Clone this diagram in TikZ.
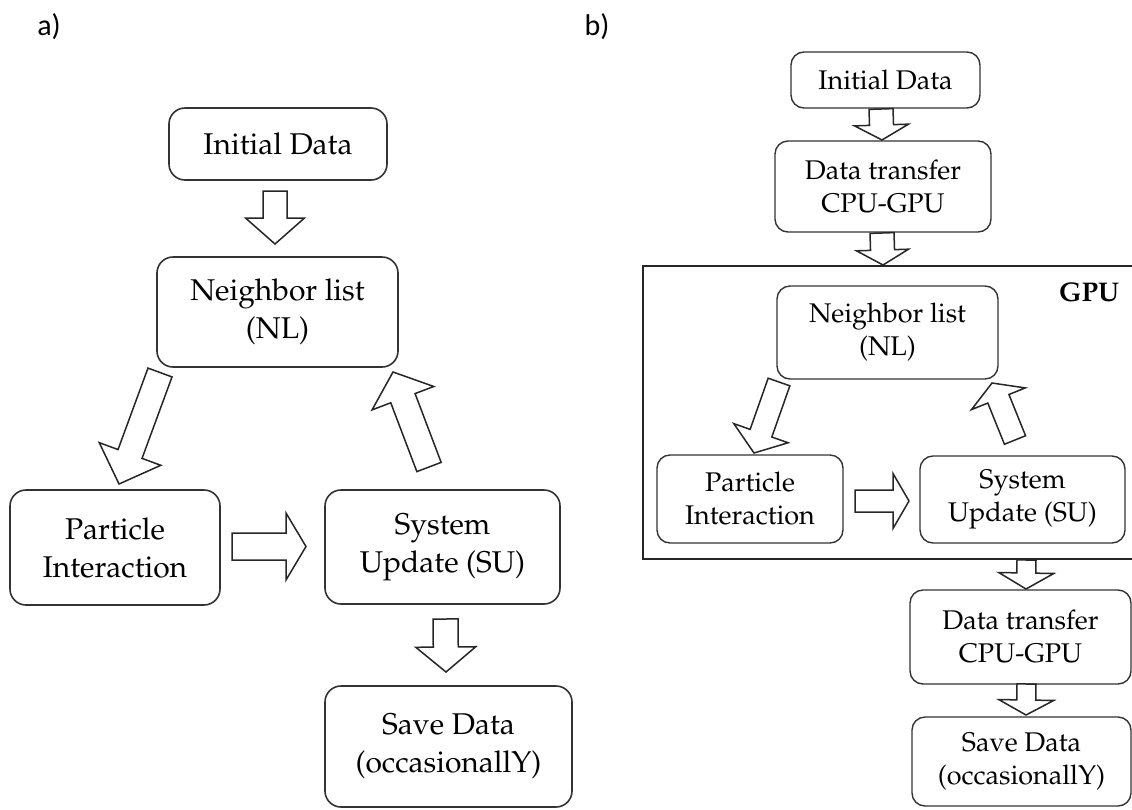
\documentclass[tikz,border=0pt]{standalone}
\usepackage[T1]{fontenc}
\usepackage{fontspec}
\newfontfamily\labfont{Carlito}
\usetikzlibrary{calc}
\newcommand\pala{\fontencoding{T1}\fontfamily{ppl}\selectfont}
\newcommand\palab{\fontencoding{T1}\fontfamily{ppl}\fontseries{b}\selectfont}
\newcommand\blockarrow[5]{%
  \path ($(#2)!#5pt!(#1)$) coordinate (bah);
  \draw[blk] ($(#1)!#3pt!90:(#2)$) -- ($(bah)!#3pt!90:(#2)$) -- ($(bah)!#4pt!90:(#2)$) -- (#2)
    -- ($(bah)!#4pt!-90:(#2)$) -- ($(bah)!#3pt!-90:(#2)$) -- ($(#1)!#3pt!-90:(#2)$) -- cycle;}
\begin{document}
\begin{tikzpicture}[x=1pt,y=-1pt,
  boxa/.style={draw=black!80, line width=1.6pt, rounded corners=16pt, align=center, inner sep=0pt,
     font=\pala\fontsize{30}{38}\selectfont},
  boxb/.style={draw=black!80, line width=1.4pt, rounded corners=13pt, align=center, inner sep=0pt,
     font=\pala\fontsize{27}{33}\selectfont},
  blk/.style={draw=black!85, line width=1.5pt, line join=miter, fill=white},
  lab/.style={font=\labfont\fontsize{30}{36}\selectfont, inner sep=0pt}]
\path[use as bounding box] (0,0) rectangle (1132,809);
\clip (0,0) rectangle (1132,809);
% labels
\node[lab] (la) at (49,27) {a)};
\node[lab] (lb) at (597,27) {b)};
% panel a
\node[boxa, minimum width=218pt, minimum height=72pt] (ida) at (278,144) {Initial Data};
\node[boxa, minimum width=241pt, minimum height=110pt] (nla) at (277.5,312) {Neighbor list\\(NL)};
\node[boxa, minimum width=210pt, minimum height=115pt] (pia) at (115,547.5) {Particle\\Interaction};
\node[boxa, minimum width=235pt, minimum height=114pt] (sua) at (442.5,547) {System\\Update (SU)};
\node[boxa, minimum width=247pt, minimum height=121pt] (sva) at (448.5,746.5) {Save Data\\(occasionallY)};
% panel b
\node[draw=black!85, line width=1.4pt, minimum width=502pt, minimum height=293pt, inner sep=0pt] (gpu) at (894,412.5) {};
\node[font=\palab\fontsize{27}{33}\selectfont, inner sep=0pt] (gpul) at (1089,292) {GPU};
\node[boxb, minimum width=189pt, minimum height=56pt] (idb) at (885.5,80) {Initial Data};
\node[boxb, minimum width=216pt, minimum height=91pt] (dtb) at (883,186.5) {Data transfer\\CPU-GPU};
\node[boxb, minimum width=221pt, minimum height=93pt] (nlb) at (887.5,332.5) {Neighbor list\\(NL)};
\node[boxb, minimum width=186pt, minimum height=88pt] (pib) at (750,499) {Particle\\Interaction};
\node[boxb, minimum width=205pt, minimum height=87pt] (sub) at (1022.5,499.5) {System\\Update (SU)};
\node[boxb, minimum width=221pt, minimum height=94pt] (dt2) at (1020.5,637) {Data transfer\\CPU-GPU};
\node[boxb, minimum width=219pt, minimum height=89pt] (sv2) at (1021.5,761.5) {Save Data\\(occasionallY)};
% arrow end points
\coordinate (a1s) at (275,191);   \coordinate (a1e) at (275,244);
\coordinate (a2s) at (160,372.5); \coordinate (a2e) at (119,484);
\coordinate (a3s) at (232,546.5); \coordinate (a3e) at (306,546.5);
\coordinate (a4s) at (429,467);   \coordinate (a4e) at (393,372);
\coordinate (a5s) at (445.5,619); \coordinate (a5e) at (446,672);
\coordinate (b1s) at (881,109);   \coordinate (b1e) at (882,140);
\coordinate (b2s) at (882,233);   \coordinate (b2e) at (883,265);
\coordinate (b3s) at (779,382);   \coordinate (b3e) at (754,453);
\coordinate (b4s) at (855,501);   \coordinate (b4e) at (909,501);
\coordinate (b5s) at (1015,440);  \coordinate (b5e) at (992,383);
\coordinate (b6s) at (1026.5,560); \coordinate (b6e) at (1026,589);
\coordinate (b7s) at (1026.5,684); \coordinate (b7e) at (1026,715);
% block arrows
\blockarrow{a1s}{a1e}{12}{29.5}{26}
\blockarrow{a2s}{a2e}{12.8}{32.8}{32}
\blockarrow{a3s}{a3e}{13.5}{33.5}{20}
\blockarrow{a4s}{a4e}{13}{33}{28}
\blockarrow{a5s}{a5e}{12.5}{30}{25}
\blockarrow{b1s}{b1e}{12}{27}{15}
\blockarrow{b2s}{b2e}{12}{26}{15}
\blockarrow{b3s}{b3e}{11.5}{28.8}{21}
\blockarrow{b4s}{b4e}{11}{27.5}{16}
\blockarrow{b5s}{b5e}{11.4}{29}{17}
\blockarrow{b6s}{b6e}{9.5}{27.5}{16}
\blockarrow{b7s}{b7e}{9.5}{27.5}{15}
\end{tikzpicture}
\end{document}
